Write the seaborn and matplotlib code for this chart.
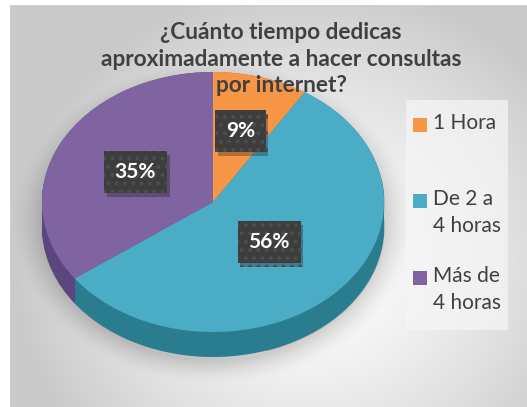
import numpy as np
import matplotlib
matplotlib.use("Agg")
import matplotlib.pyplot as plt
import seaborn as sns
from matplotlib.patches import Rectangle
from matplotlib import patheffects as pe

# Survey answers
categories = ["1 Hora", "De 2 a\n4 horas", "Más de\n4 horas"]
shares = [9, 56, 35]
title = "¿Cuánto tiempo dedicas\naproximadamente a hacer consultas\npor internet?"

# Style
top_colors = ["#F79646", "#4BACC6", "#8064A2"]
side_colors = ["#b8692c", "#2a7d8f", "#5b4680"]
text_color = "#404040"
label_radius = [0.57, 0.45, 0.51]

sns.set_theme(style="white")
plt.rcParams["font.family"] = ["Lato", "DejaVu Sans"]
plt.rcParams["hatch.linewidth"] = 1.6

W, H = 527, 407
fig = plt.figure(figsize=(W / 100, H / 100), dpi=100)

# ---- background: radial grey gradient, soft shadow under the pie ----
yy, xx = np.mgrid[0:H, 0:W].astype(float)
d = np.sqrt(((xx - 310) / 300) ** 2 + ((yy - 260) / 280) ** 2)
val = 1.0 - 0.21 * np.clip(d, 0, 1) ** 1.4
sd = np.sqrt(((xx - 213) / 186) ** 2 + ((yy - 222) / 150) ** 2)
shadow = np.clip((1.08 - sd) / 0.16, 0, 1) ** 1.5
val = val - 0.15 * shadow
img = np.dstack([val] * 3)
img[:, :10] = 1.0
img[:5, :] = 1.0
img[5, 10:] = 0.82
img[5:, 10] = 0.82
bg = fig.add_axes([0, 0, 1, 1], zorder=-5)
bg.imshow(img, extent=(0, W, H, 0), aspect="auto", interpolation="bilinear")
bg.set_xlim(0, W)
bg.set_ylim(H, 0)
bg.axis("off")

# legend panel
bg.add_patch(Rectangle((406, 100), 102, 230, facecolor="#f6f6f6",
                       edgecolor="none", alpha=0.7))

# ---- pie: elliptical top face plus a dark extruded rim ----
cx, cy, rx, ry, depth = 213, 202, 171, 130, 25
xlo, xhi, ylo, yhi = -1.2, 1.2, -1.4, 1.2
ax = fig.add_axes([
    (cx + xlo * rx) / W,
    (H - cy + ylo * ry) / H,
    (xhi - xlo) * rx / W,
    (yhi - ylo) * ry / H,
])

dz = depth / ry
for k in np.linspace(dz, 0.0, 24):
    ax.pie(shares, colors=side_colors, startangle=90, counterclock=False,
           center=(0, -k), wedgeprops=dict(linewidth=0, antialiased=True))

wedges, _, pct_texts = ax.pie(
    shares, colors=top_colors, startangle=90, counterclock=False,
    autopct=lambda p: f"{p:.0f}%", pctdistance=0.55,
    wedgeprops=dict(linewidth=0),
    textprops=dict(color="white", fontsize=15, fontweight="bold"),
)

# darker right-hand part of the rim
ang = np.radians(np.linspace(-72, 10, 60))
xs = np.cos(ang)
ax.fill_between(xs, np.sin(ang) - dz, np.sin(ang), color="#0f3a40", alpha=0.35,
                linewidth=0, zorder=0.5)

for w, t, r in zip(wedges, pct_texts, label_radius):
    mid = np.radians((w.theta1 + w.theta2) / 2)
    t.set_position((r * np.cos(mid), r * np.sin(mid)))
    t.set_zorder(10)
    t.set_bbox(dict(boxstyle="square,pad=0.52", facecolor="#3d3d3d",
                    edgecolor="#4d4d4d", hatch="..", linewidth=0))
    t.get_bbox_patch().set_path_effects([
        pe.SimplePatchShadow(offset=(2, -3), alpha=0.3), pe.Normal()])

ax.set_aspect("auto")
ax.set_xlim(xlo, xhi)
ax.set_ylim(ylo, yhi)
ax.axis("off")

# ---- title ----
fig.text(281 / W, 1 - 59 / H, title, ha="center", va="center",
         fontsize=16.3, fontweight="bold", color=text_color, linespacing=1.33,
         zorder=20)

# ---- legend ----
leg_y = [125, 201, 278]
for lab, col, y in zip(categories, top_colors, leg_y):
    bg.add_patch(Rectangle((413, y - 7), 14, 14, facecolor=col, edgecolor="none"))
    bg.text(433, y - 12, lab, ha="left", va="top", fontsize=15,
            color=text_color, linespacing=1.45)

fig.savefig("out.png", dpi=100)
